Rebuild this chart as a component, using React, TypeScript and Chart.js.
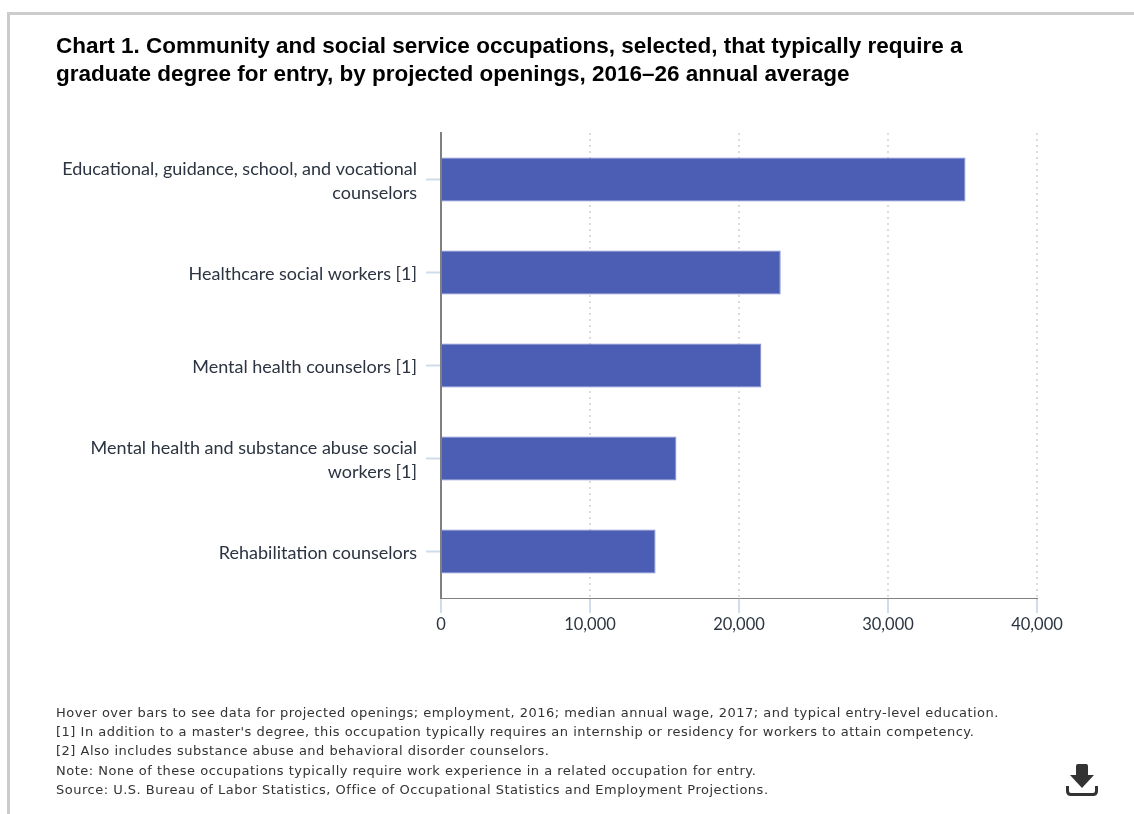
import React, { useEffect, useRef } from "react";
import { Chart, registerables } from "chart.js";

Chart.register(...registerables);

const categories: (string | string[])[] = [
  ["Educational, guidance, school, and vocational", "counselors"],
  "Healthcare social workers [1]",
  "Mental health counselors [1]",
  ["Mental health and substance abuse social", "workers [1]"],
  "Rehabilitation counselors",
];
const projectedOpenings = [35200, 22800, 21500, 15800, 14400];
const titleLines = [
  "Chart 1. Community and social service occupations, selected, that typically require a",
  "graduate degree for entry, by projected openings, 2016–26 annual average",
];
const footnotes = [
  "Hover over bars to see data for projected openings; employment, 2016; median annual wage, 2017; and typical entry-level education.",
  "[1] In addition to a master's degree, this occupation typically requires an internship or residency for workers to attain competency.",
  "[2] Also includes substance abuse and behavioral disorder counselors.",
  "Note: None of these occupations typically require work experience in a related occupation for entry.",
  "Source: U.S. Bureau of Labor Statistics, Office of Occupational Statistics and Employment Projections.",
];

const TICK_BLUE = "#d0dcec";
const TEXT_COLOR = "#2b3440";

export default function App() {
  const canvasRef = useRef<HTMLCanvasElement>(null);

  useEffect(() => {
    const chart = new Chart(canvasRef.current!, {
      type: "bar",
      data: {
        labels: categories,
        datasets: [
          {
            label: "Projected openings",
            data: projectedOpenings,
            backgroundColor: "#4c5db4",
            borderColor: "#7f8dd2",
            borderWidth: 1,
            barPercentage: 0.473,
            categoryPercentage: 1,
          },
        ],
      },
      options: {
        indexAxis: "y",
        animation: false,
        responsive: false,
        layout: { padding: { top: 133, right: 97, bottom: 0, left: 0 } },
        plugins: { legend: { display: false }, title: { display: false }, tooltip: { enabled: true } },
        scales: {
          x: {
            min: 0,
            max: 40000,
            afterFit: (axis: any) => {
              axis.height = 216;
            },
            ticks: {
              stepSize: 10000,
              color: TEXT_COLOR,
              font: { family: "Lato", size: 16.5 },
              padding: 2,
              maxRotation: 0,
              callback: (v: any) => Number(v).toLocaleString("en-US"),
            },
            grid: {
              color: "#dcdcdc",
              lineWidth: 2,
              tickColor: TICK_BLUE,
              tickLength: 15,
              tickWidth: 2,
              tickBorderDash: [],
            },
            border: { color: "#808080", width: 1, dash: [2, 4] },
          },
          y: {
            afterFit: (axis: any) => {
              axis.width = 441;
            },
            ticks: {
              color: TEXT_COLOR,
              font: { family: "Lato", size: 18, lineHeight: 1.33 },
              padding: 9,
              labelOffset: 2,
            },
            grid: {
              offset: false,
              drawOnChartArea: false,
              tickColor: TICK_BLUE,
              tickLength: 15,
              tickWidth: 2,
            },
            border: { color: "#808080", width: 2 },
          },
        },
      },
    } as any);
    return () => chart.destroy();
  }, []);

  return (
    <div style={{ position: "fixed", inset: 0, width: 1134, height: 814, overflow: "hidden", background: "#fff" }}>
      <div
        style={{
          position: "absolute",
          left: 7,
          top: 12,
          width: 1127,
          height: 802,
          boxSizing: "border-box",
          borderLeft: "3px solid #cccccc",
          borderTop: "3px solid #cccccc",
        }}
      />
      <canvas ref={canvasRef} width={1134} height={814} style={{ position: "absolute", left: 0, top: 0, display: "block" }} />
      <div
        style={{
          position: "absolute",
          left: 56,
          top: 32,
          font: "bold 22.5px/28px 'Liberation Sans'",
          color: "#000",
          whiteSpace: "nowrap",
        }}
      >
        {titleLines.map((line) => (
          <div key={line}>{line}</div>
        ))}
      </div>
      <div
        style={{
          position: "absolute",
          left: 56,
          top: 703,
          font: "13px/19.2px 'DejaVu Sans'",
          letterSpacing: "0.5px",
          color: "#333",
          whiteSpace: "nowrap",
        }}
      >
        {footnotes.map((line) => (
          <div key={line}>{line}</div>
        ))}
      </div>
      {/* download icon */}
      <svg style={{ position: "absolute", left: 1064, top: 762 }} width={36} height={36} viewBox="0 0 36 36" aria-label="Download">
        <path d="M12 4 Q12 2 14 2 H22 Q24 2 24 4 V13 H30 L18 26 L6 13 H12 Z" fill="#333" />
        <path d="M3.5 24 V29 Q3.5 32.5 7 32.5 H29 Q32.5 32.5 32.5 29 V24" fill="none" stroke="#333" strokeWidth={3} />
      </svg>
    </div>
  );
}
